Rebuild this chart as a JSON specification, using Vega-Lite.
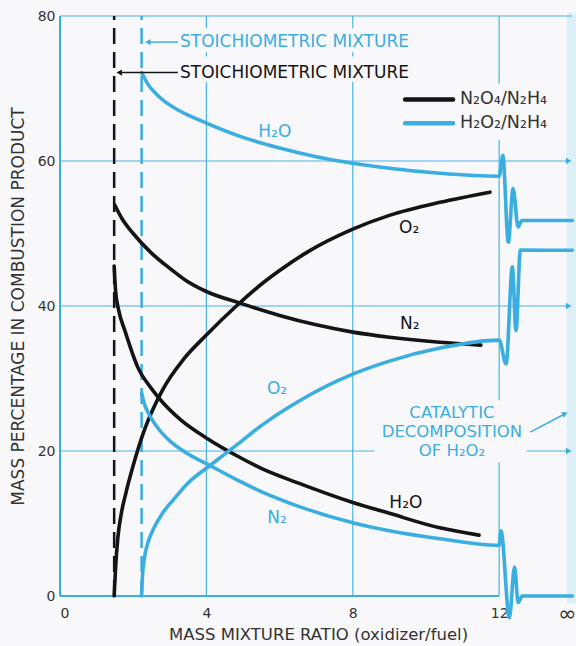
{
  "$schema": "https://vega.github.io/schema/vega-lite/v6.json",
  "width": 516,
  "height": 580,
  "autosize": {"type": "none"},
  "padding": {"left": 60, "top": 16, "right": 0, "bottom": 50},
  "background": "#f8f7fa",
  "config": {
    "font": "DejaVu Sans",
    "view": {"stroke": null},
    "axis": {"grid": false, "ticks": false, "domain": false, "labelColor": "#333333", "titleColor": "#333333", "labelFontSize": 14, "titleFontSize": 17, "titleFontWeight": "normal", "labelFont": "DejaVu Sans", "titleFont": "DejaVu Sans"}
  },
  "datasets": {
    "curves": [
      {"mix": "N2O4/N2H4", "gas": "N2", "x": 1.50, "y": 53.9},
      {"mix": "N2O4/N2H4", "gas": "N2", "x": 1.7, "y": 52.0},
      {"mix": "N2O4/N2H4", "gas": "N2", "x": 2.0, "y": 50.0},
      {"mix": "N2O4/N2H4", "gas": "N2", "x": 2.5, "y": 47.3},
      {"mix": "N2O4/N2H4", "gas": "N2", "x": 3.0, "y": 45.2},
      {"mix": "N2O4/N2H4", "gas": "N2", "x": 3.42, "y": 43.6},
      {"mix": "N2O4/N2H4", "gas": "N2", "x": 4.0, "y": 42.0},
      {"mix": "N2O4/N2H4", "gas": "N2", "x": 4.92, "y": 40.4},
      {"mix": "N2O4/N2H4", "gas": "N2", "x": 6.0, "y": 38.7},
      {"mix": "N2O4/N2H4", "gas": "N2", "x": 7.0, "y": 37.4},
      {"mix": "N2O4/N2H4", "gas": "N2", "x": 8.0, "y": 36.4},
      {"mix": "N2O4/N2H4", "gas": "N2", "x": 9.0, "y": 35.7},
      {"mix": "N2O4/N2H4", "gas": "N2", "x": 10.38, "y": 35.0},
      {"mix": "N2O4/N2H4", "gas": "N2", "x": 11.5, "y": 34.6},

      {"mix": "N2O4/N2H4", "gas": "O2", "x": 1.48, "y": 0},
      {"mix": "N2O4/N2H4", "gas": "O2", "x": 1.52, "y": 4},
      {"mix": "N2O4/N2H4", "gas": "O2", "x": 1.58, "y": 8},
      {"mix": "N2O4/N2H4", "gas": "O2", "x": 1.68, "y": 11.5},
      {"mix": "N2O4/N2H4", "gas": "O2", "x": 1.8, "y": 14.2},
      {"mix": "N2O4/N2H4", "gas": "O2", "x": 2.0, "y": 18.0},
      {"mix": "N2O4/N2H4", "gas": "O2", "x": 2.3, "y": 22.8},
      {"mix": "N2O4/N2H4", "gas": "O2", "x": 2.8, "y": 28.4},
      {"mix": "N2O4/N2H4", "gas": "O2", "x": 3.4, "y": 32.8},
      {"mix": "N2O4/N2H4", "gas": "O2", "x": 4.0, "y": 36.0},
      {"mix": "N2O4/N2H4", "gas": "O2", "x": 4.84, "y": 40.1},
      {"mix": "N2O4/N2H4", "gas": "O2", "x": 5.5, "y": 43.0},
      {"mix": "N2O4/N2H4", "gas": "O2", "x": 6.0, "y": 44.9},
      {"mix": "N2O4/N2H4", "gas": "O2", "x": 6.78, "y": 47.5},
      {"mix": "N2O4/N2H4", "gas": "O2", "x": 8.0, "y": 50.6},
      {"mix": "N2O4/N2H4", "gas": "O2", "x": 9.0, "y": 52.5},
      {"mix": "N2O4/N2H4", "gas": "O2", "x": 10.38, "y": 54.3},
      {"mix": "N2O4/N2H4", "gas": "O2", "x": 11.75, "y": 55.7},

      {"mix": "N2O4/N2H4", "gas": "H2O", "x": 1.48, "y": 45.5},
      {"mix": "N2O4/N2H4", "gas": "H2O", "x": 1.52, "y": 42.0},
      {"mix": "N2O4/N2H4", "gas": "H2O", "x": 1.6, "y": 39.5},
      {"mix": "N2O4/N2H4", "gas": "H2O", "x": 1.78, "y": 36.5},
      {"mix": "N2O4/N2H4", "gas": "H2O", "x": 2.13, "y": 31.5},
      {"mix": "N2O4/N2H4", "gas": "H2O", "x": 2.5, "y": 28.6},
      {"mix": "N2O4/N2H4", "gas": "H2O", "x": 2.79, "y": 26.8},
      {"mix": "N2O4/N2H4", "gas": "H2O", "x": 3.3, "y": 24.3},
      {"mix": "N2O4/N2H4", "gas": "H2O", "x": 4.0, "y": 21.8},
      {"mix": "N2O4/N2H4", "gas": "H2O", "x": 4.92, "y": 19.1},
      {"mix": "N2O4/N2H4", "gas": "H2O", "x": 5.5, "y": 17.6},
      {"mix": "N2O4/N2H4", "gas": "H2O", "x": 6.5, "y": 15.6},
      {"mix": "N2O4/N2H4", "gas": "H2O", "x": 8.0, "y": 12.9},
      {"mix": "N2O4/N2H4", "gas": "H2O", "x": 9.0, "y": 11.4},
      {"mix": "N2O4/N2H4", "gas": "H2O", "x": 10.38, "y": 9.4},
      {"mix": "N2O4/N2H4", "gas": "H2O", "x": 11.45, "y": 8.4},

      {"mix": "H2O2/N2H4", "gas": "H2O", "x": 2.23, "y": 72.2},
      {"mix": "H2O2/N2H4", "gas": "H2O", "x": 2.4, "y": 70.6},
      {"mix": "H2O2/N2H4", "gas": "H2O", "x": 2.7, "y": 68.9},
      {"mix": "H2O2/N2H4", "gas": "H2O", "x": 3.2, "y": 67.1},
      {"mix": "H2O2/N2H4", "gas": "H2O", "x": 3.83, "y": 65.6},
      {"mix": "H2O2/N2H4", "gas": "H2O", "x": 4.92, "y": 63.4},
      {"mix": "H2O2/N2H4", "gas": "H2O", "x": 6.0, "y": 61.8},
      {"mix": "H2O2/N2H4", "gas": "H2O", "x": 7.0, "y": 60.6},
      {"mix": "H2O2/N2H4", "gas": "H2O", "x": 8.0, "y": 59.7},
      {"mix": "H2O2/N2H4", "gas": "H2O", "x": 9.0, "y": 59.0},
      {"mix": "H2O2/N2H4", "gas": "H2O", "x": 10.38, "y": 58.3},
      {"mix": "H2O2/N2H4", "gas": "H2O", "x": 12.0, "y": 57.9},
      {"mix": "H2O2/N2H4", "gas": "H2O", "x": 12.1, "y": 60.8},
      {"mix": "H2O2/N2H4", "gas": "H2O", "x": 12.25, "y": 48.8},
      {"mix": "H2O2/N2H4", "gas": "H2O", "x": 12.38, "y": 56.2},
      {"mix": "H2O2/N2H4", "gas": "H2O", "x": 12.52, "y": 50.9},
      {"mix": "H2O2/N2H4", "gas": "H2O", "x": 12.62, "y": 51.8},
      {"mix": "H2O2/N2H4", "gas": "H2O", "x": 14.0, "y": 51.8},

      {"mix": "H2O2/N2H4", "gas": "O2", "x": 2.23, "y": 0},
      {"mix": "H2O2/N2H4", "gas": "O2", "x": 2.25, "y": 2.5},
      {"mix": "H2O2/N2H4", "gas": "O2", "x": 2.3, "y": 5.0},
      {"mix": "H2O2/N2H4", "gas": "O2", "x": 2.4, "y": 7.3},
      {"mix": "H2O2/N2H4", "gas": "O2", "x": 2.55, "y": 9.2},
      {"mix": "H2O2/N2H4", "gas": "O2", "x": 2.8, "y": 11.4},
      {"mix": "H2O2/N2H4", "gas": "O2", "x": 3.1, "y": 13.3},
      {"mix": "H2O2/N2H4", "gas": "O2", "x": 3.5, "y": 15.6},
      {"mix": "H2O2/N2H4", "gas": "O2", "x": 4.1, "y": 18.0},
      {"mix": "H2O2/N2H4", "gas": "O2", "x": 4.92, "y": 21.2},
      {"mix": "H2O2/N2H4", "gas": "O2", "x": 5.5, "y": 23.5},
      {"mix": "H2O2/N2H4", "gas": "O2", "x": 6.5, "y": 26.8},
      {"mix": "H2O2/N2H4", "gas": "O2", "x": 8.0, "y": 30.6},
      {"mix": "H2O2/N2H4", "gas": "O2", "x": 9.0, "y": 32.4},
      {"mix": "H2O2/N2H4", "gas": "O2", "x": 10.38, "y": 34.2},
      {"mix": "H2O2/N2H4", "gas": "O2", "x": 12.0, "y": 35.3},
      {"mix": "H2O2/N2H4", "gas": "O2", "x": 12.19, "y": 32.0},
      {"mix": "H2O2/N2H4", "gas": "O2", "x": 12.36, "y": 45.4},
      {"mix": "H2O2/N2H4", "gas": "O2", "x": 12.46, "y": 36.6},
      {"mix": "H2O2/N2H4", "gas": "O2", "x": 12.58, "y": 47.7},
      {"mix": "H2O2/N2H4", "gas": "O2", "x": 14.0, "y": 47.7},

      {"mix": "H2O2/N2H4", "gas": "N2", "x": 2.23, "y": 28.0},
      {"mix": "H2O2/N2H4", "gas": "N2", "x": 2.3, "y": 26.6},
      {"mix": "H2O2/N2H4", "gas": "N2", "x": 2.45, "y": 24.9},
      {"mix": "H2O2/N2H4", "gas": "N2", "x": 2.7, "y": 23.0},
      {"mix": "H2O2/N2H4", "gas": "N2", "x": 3.0, "y": 21.4},
      {"mix": "H2O2/N2H4", "gas": "N2", "x": 3.4, "y": 19.9},
      {"mix": "H2O2/N2H4", "gas": "N2", "x": 4.1, "y": 18.0},
      {"mix": "H2O2/N2H4", "gas": "N2", "x": 4.92, "y": 15.8},
      {"mix": "H2O2/N2H4", "gas": "N2", "x": 5.5, "y": 14.4},
      {"mix": "H2O2/N2H4", "gas": "N2", "x": 6.5, "y": 12.4},
      {"mix": "H2O2/N2H4", "gas": "N2", "x": 8.0, "y": 10.1},
      {"mix": "H2O2/N2H4", "gas": "N2", "x": 9.0, "y": 9.0},
      {"mix": "H2O2/N2H4", "gas": "N2", "x": 10.38, "y": 7.9},
      {"mix": "H2O2/N2H4", "gas": "N2", "x": 12.0, "y": 7.0},
      {"mix": "H2O2/N2H4", "gas": "N2", "x": 12.05, "y": 9.0},
      {"mix": "H2O2/N2H4", "gas": "N2", "x": 12.28, "y": -3.0},
      {"mix": "H2O2/N2H4", "gas": "N2", "x": 12.42, "y": 4.0},
      {"mix": "H2O2/N2H4", "gas": "N2", "x": 12.52, "y": -0.9},
      {"mix": "H2O2/N2H4", "gas": "N2", "x": 12.63, "y": 0},
      {"mix": "H2O2/N2H4", "gas": "N2", "x": 14.0, "y": 0}
    ],
    "grid": [
      {"x": 0, "x2": 8.6, "y": 20, "y2": 20},
      {"x": 12.75, "x2": 13.9, "y": 20, "y2": 20},
      {"x": 0, "x2": 13.9, "y": 40, "y2": 40},
      {"x": 0, "x2": 13.9, "y": 60, "y2": 60},
      {"x": 0, "x2": 14.0, "y": 80, "y2": 80},
      {"x": 4, "x2": 4, "y": 0, "y2": 70.9},
      {"x": 4, "x2": 4, "y": 74.4, "y2": 75.0},
      {"x": 4, "x2": 4, "y": 78.3, "y2": 80},
      {"x": 8, "x2": 8, "y": 0, "y2": 70.9},
      {"x": 8, "x2": 8, "y": 74.4, "y2": 75.0},
      {"x": 8, "x2": 8, "y": 78.3, "y2": 80},
      {"x": 12, "x2": 12, "y": 0, "y2": 18.4},
      {"x": 12, "x2": 12, "y": 27.0, "y2": 62.9},
      {"x": 12, "x2": 12, "y": 70.7, "y2": 80}
    ],
    "frame": [
      {"x": 0, "x2": 0, "y": 0, "y2": 80},
      {"x": 0, "x2": 12.0, "y": 0, "y2": 0}
    ],
    "stoich": [
      {"mix": "N2O4/N2H4", "x": 1.48},
      {"mix": "H2O2/N2H4", "x": 2.23}
    ],
    "pointers": [
      {"mix": "H2O2/N2H4", "x": 2.38, "x2": 3.22, "y": 76.4, "y2": 76.4},
      {"mix": "N2O4/N2H4", "x": 1.6, "x2": 3.22, "y": 72.2, "y2": 72.2},
      {"mix": "H2O2/N2H4", "x": 12.85, "x2": 13.75, "y": 22.6, "y2": 25.0}
    ],
    "heads_left": [
      {"mix": "H2O2/N2H4", "x": 2.4, "y": 76.4},
      {"mix": "N2O4/N2H4", "x": 1.62, "y": 72.2}
    ],
    "heads_right": [
      {"x": 13.9, "y": 60},
      {"x": 13.9, "y": 40},
      {"x": 13.9, "y": 20}
    ],
    "heads_diag": [
      {"x": 13.8, "y": 25.15}
    ],
    "legend": [
      {"mix": "N2O4/N2H4", "label": "N₂O₄/N₂H₄", "x": 9.43, "x2": 10.74, "tx": 10.93, "y": 68.5},
      {"mix": "H2O2/N2H4", "label": "H₂O₂/N₂H₄", "x": 9.43, "x2": 10.74, "tx": 10.93, "y": 65.2}
    ],
    "labels": [
      {"mix": "H2O2/N2H4", "label": "H₂O", "x": 5.87, "y": 64.0},
      {"mix": "N2O4/N2H4", "label": "O₂", "x": 9.54, "y": 50.8},
      {"mix": "N2O4/N2H4", "label": "N₂", "x": 9.56, "y": 37.5},
      {"mix": "H2O2/N2H4", "label": "O₂", "x": 5.93, "y": 28.6},
      {"mix": "N2O4/N2H4", "label": "H₂O", "x": 9.45, "y": 12.8},
      {"mix": "H2O2/N2H4", "label": "N₂", "x": 5.93, "y": 10.7}
    ],
    "notes": [
      {"mix": "H2O2/N2H4", "text": "STOICHIOMETRIC MIXTURE", "x": 3.28, "y": 76.4},
      {"mix": "N2O4/N2H4", "text": "STOICHIOMETRIC MIXTURE", "x": 3.28, "y": 72.2}
    ],
    "catalytic": [
      {"mix": "H2O2/N2H4", "text": ["CATALYTIC", "DECOMPOSITION", "OF H₂O₂"], "x": 10.71, "y": 25.2}
    ]
  },
  "encoding": {
    "x": {"type": "quantitative", "scale": {"domain": [0, 14.1], "nice": false, "zero": false}},
    "y": {"type": "quantitative", "scale": {"domain": [0, 80], "nice": false}}
  },
  "layer": [
    {
      "data": {"values": [{"a": 1}]},
      "mark": {"type": "rect", "color": "#d6ecf5", "opacity": 0.8},
      "encoding": {"x": {"datum": 13.85}, "x2": {"datum": 14.1}, "y": {"datum": -1}, "y2": {"datum": 80.5}}
    },
    {
      "data": {"name": "grid"},
      "mark": {"type": "rule", "color": "#4ab4e3", "strokeWidth": 1.2},
      "encoding": {
        "x": {"field": "x", "type": "quantitative", "axis": {"values": [0, 4, 8, 12, 13.85], "labelExpr": "datum.value > 13 ? '∞' : datum.label", "labelFontSize": {"condition": {"test": "datum.value > 13", "value": 22}, "value": 14}, "labelBaseline": "middle", "labelPadding": 17, "title": "MASS MIXTURE RATIO (oxidizer/fuel)", "titleFontSize": 16.5, "titleBaseline": "middle", "titleX": 258, "titleY": 38}},
        "x2": {"field": "x2"},
        "y": {"field": "y", "type": "quantitative", "axis": {"values": [0, 20, 40, 60, 80], "labelPadding": 5, "title": "MASS PERCENTAGE IN COMBUSTION PRODUCT", "titleBaseline": "middle", "titleAngle": -90, "titleX": -42, "titleY": 290}},
        "y2": {"field": "y2"}
      }
    },
    {
      "data": {"name": "frame"},
      "mark": {"type": "rule", "color": "#3aaee0", "strokeWidth": 2},
      "encoding": {"x": {"field": "x", "type": "quantitative"}, "x2": {"field": "x2"}, "y": {"field": "y", "type": "quantitative"}, "y2": {"field": "y2"}}
    },
    {
      "data": {"name": "stoich"},
      "mark": {"type": "rule", "strokeWidth": 2.5, "strokeDash": [16, 8]},
      "encoding": {
        "x": {"field": "x", "type": "quantitative"},
        "y": {"datum": 0},
        "y2": {"datum": 80},
        "color": {"field": "mix", "type": "nominal", "scale": {"domain": ["N2O4/N2H4", "H2O2/N2H4"], "range": ["#141414", "#3aaee0"]}, "legend": null}
      }
    },
    {
      "data": {"name": "curves"},
      "mark": {"type": "line", "strokeWidth": 3.6, "strokeCap": "round", "strokeJoin": "round", "interpolate": "monotone"},
      "encoding": {
        "x": {"field": "x", "type": "quantitative"},
        "y": {"field": "y", "type": "quantitative"},
        "detail": {"field": "gas"},
        "color": {"field": "mix", "type": "nominal", "legend": null}
      }
    },
    {
      "data": {"name": "pointers"},
      "mark": {"type": "rule", "strokeWidth": 1.5},
      "encoding": {"x": {"field": "x", "type": "quantitative"}, "x2": {"field": "x2"}, "y": {"field": "y", "type": "quantitative"}, "y2": {"field": "y2"}, "color": {"field": "mix", "type": "nominal", "legend": null}}
    },
    {
      "data": {"name": "heads_left"},
      "mark": {"type": "point", "shape": "triangle-left", "filled": true, "size": 40, "opacity": 1},
      "encoding": {"x": {"field": "x", "type": "quantitative"}, "y": {"field": "y", "type": "quantitative"}, "color": {"field": "mix", "type": "nominal", "legend": null}}
    },
    {
      "data": {"name": "heads_right"},
      "mark": {"type": "point", "shape": "triangle-right", "filled": true, "size": 40, "opacity": 1, "color": "#3aaee0"},
      "encoding": {"x": {"field": "x", "type": "quantitative"}, "y": {"field": "y", "type": "quantitative"}}
    },
    {
      "data": {"name": "heads_diag"},
      "mark": {"type": "point", "shape": "triangle-right", "filled": true, "size": 40, "opacity": 1, "color": "#3aaee0", "angle": 333},
      "encoding": {"x": {"field": "x", "type": "quantitative"}, "y": {"field": "y", "type": "quantitative"}}
    },
    {
      "data": {"name": "legend"},
      "mark": {"type": "rule", "strokeWidth": 4.5, "strokeCap": "round"},
      "encoding": {"x": {"field": "x", "type": "quantitative"}, "x2": {"field": "x2"}, "y": {"field": "y", "type": "quantitative"}, "color": {"field": "mix", "type": "nominal", "legend": null}}
    },
    {
      "data": {"name": "legend"},
      "mark": {"type": "text", "align": "left", "baseline": "middle", "fontSize": 17.5, "color": "#333333"},
      "encoding": {"x": {"field": "tx", "type": "quantitative"}, "y": {"field": "y", "type": "quantitative"}, "text": {"field": "label"}}
    },
    {
      "data": {"name": "labels"},
      "mark": {"type": "text", "align": "center", "baseline": "middle", "fontSize": 17},
      "encoding": {"x": {"field": "x", "type": "quantitative"}, "y": {"field": "y", "type": "quantitative"}, "text": {"field": "label"}, "color": {"field": "mix", "type": "nominal", "legend": null}}
    },
    {
      "data": {"name": "notes"},
      "mark": {"type": "text", "align": "left", "baseline": "middle", "fontSize": 17},
      "encoding": {"x": {"field": "x", "type": "quantitative"}, "y": {"field": "y", "type": "quantitative"}, "text": {"field": "text"}, "color": {"field": "mix", "type": "nominal", "legend": null}}
    },
    {
      "data": {"name": "catalytic"},
      "mark": {"type": "text", "align": "center", "baseline": "middle", "fontSize": 16.5, "lineHeight": 19},
      "encoding": {"x": {"field": "x", "type": "quantitative"}, "y": {"field": "y", "type": "quantitative"}, "text": {"field": "text"}, "color": {"field": "mix", "type": "nominal", "legend": null}}
    }
  ]
}
